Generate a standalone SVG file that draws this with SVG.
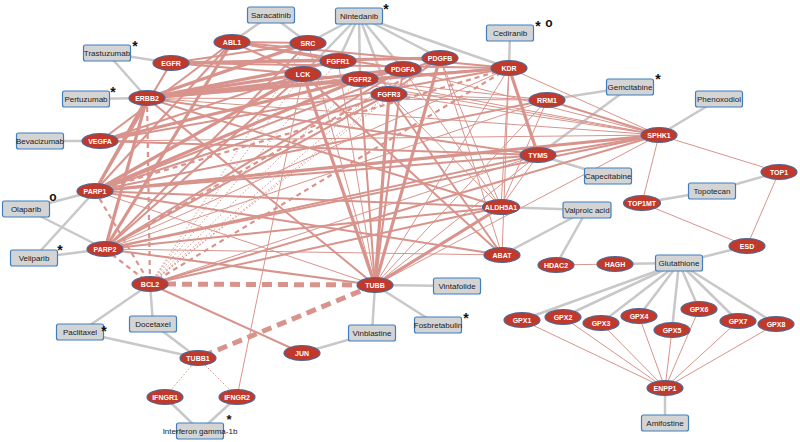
<svg xmlns="http://www.w3.org/2000/svg" width="800" height="442" viewBox="0 0 800 442">
<style>
.g{stroke:#c8c8c8;stroke-width:2.5;fill:none}
.r1{stroke:#d8948c;stroke-width:1;fill:none}
.r2{stroke:#d8948c;stroke-width:2;fill:none}
.r3{stroke:#d8948c;stroke-width:3.2;fill:none}
.rd{stroke:#d8948c;stroke-width:2.2;stroke-dasharray:5 4;fill:none}
.rdot{stroke:#d8948c;stroke-width:1;stroke-dasharray:1.5 2;fill:none}
.rbig{stroke:#d8948c;stroke-width:5;stroke-dasharray:10 6;fill:none}
.gene ellipse{fill:#c0392b;stroke:#4e6794;stroke-width:1.2}
.gene text{fill:#fff;font-family:"Liberation Sans",Arial,sans-serif;font-weight:bold;font-size:7px;text-anchor:middle}
.drug rect{fill:#d4d4d4;stroke:#3f7fbf;stroke-width:1.2}
.drug text{fill:#222;font-family:"Liberation Sans",Arial,sans-serif;font-size:8px;text-anchor:middle}
.mk{fill:#111;font-family:"Liberation Sans",Arial,sans-serif;font-weight:bold;text-anchor:middle}
</style>
<rect width="800" height="442" fill="#fff"/>
<g id="connectors">
<line class="g" x1="271" y1="15" x2="232" y2="42"/>
<line class="g" x1="271" y1="15" x2="308" y2="43"/>
<line class="g" x1="359" y1="16" x2="308" y2="43"/>
<line class="g" x1="359" y1="16" x2="303" y2="74"/>
<line class="g" x1="359" y1="16" x2="338" y2="61"/>
<line class="g" x1="359" y1="16" x2="360" y2="79"/>
<line class="g" x1="359" y1="16" x2="389" y2="94"/>
<line class="g" x1="359" y1="16" x2="403" y2="69"/>
<line class="g" x1="359" y1="16" x2="440" y2="58"/>
<line class="g" x1="359" y1="16" x2="509" y2="68"/>
<line class="g" x1="510" y1="33" x2="509" y2="68"/>
<line class="g" x1="107" y1="53" x2="171" y2="63"/>
<line class="g" x1="107" y1="53" x2="147" y2="98"/>
<line class="g" x1="86" y1="99" x2="147" y2="98"/>
<line class="g" x1="40" y1="141" x2="100" y2="141"/>
<line class="g" x1="630" y1="87" x2="547" y2="100"/>
<line class="g" x1="630" y1="87" x2="538" y2="155"/>
<line class="g" x1="719" y1="99" x2="659" y2="135"/>
<line class="g" x1="608" y1="176" x2="538" y2="155"/>
<line class="g" x1="712" y1="191" x2="779" y2="172"/>
<line class="g" x1="712" y1="191" x2="642" y2="203"/>
<line class="g" x1="587" y1="210" x2="501" y2="207"/>
<line class="g" x1="587" y1="210" x2="556" y2="265"/>
<line class="g" x1="587" y1="210" x2="502" y2="255"/>
<line class="g" x1="679" y1="263" x2="615" y2="264"/>
<line class="g" x1="679" y1="263" x2="747" y2="246"/>
<line class="g" x1="679" y1="263" x2="522" y2="320"/>
<line class="g" x1="679" y1="263" x2="563" y2="317"/>
<line class="g" x1="679" y1="263" x2="601" y2="323"/>
<line class="g" x1="679" y1="263" x2="639" y2="316"/>
<line class="g" x1="679" y1="263" x2="672" y2="330"/>
<line class="g" x1="679" y1="263" x2="699" y2="309"/>
<line class="g" x1="679" y1="263" x2="738" y2="321"/>
<line class="g" x1="679" y1="263" x2="776" y2="324"/>
<line class="g" x1="665" y1="423" x2="665" y2="388"/>
<line class="g" x1="26" y1="209" x2="95" y2="191"/>
<line class="g" x1="26" y1="209" x2="105" y2="249"/>
<line class="g" x1="34" y1="258" x2="95" y2="191"/>
<line class="g" x1="34" y1="258" x2="105" y2="249"/>
<line class="g" x1="457" y1="286" x2="375" y2="285"/>
<line class="g" x1="372" y1="333" x2="375" y2="285"/>
<line class="g" x1="438" y1="325" x2="375" y2="285"/>
<line class="g" x1="372" y1="333" x2="302" y2="353"/>
<line class="g" x1="80" y1="332" x2="150" y2="284"/>
<line class="g" x1="153" y1="324" x2="150" y2="284"/>
<line class="g" x1="80" y1="332" x2="198" y2="358"/>
<line class="g" x1="153" y1="324" x2="198" y2="358"/>
<line class="g" x1="200" y1="431" x2="165" y2="397"/>
<line class="g" x1="200" y1="431" x2="237" y2="397"/>
<line class="r1" x1="659" y1="135" x2="779" y2="172"/>
<line class="r1" x1="659" y1="135" x2="642" y2="203"/>
<line class="r1" x1="642" y1="203" x2="747" y2="246"/>
<line class="r1" x1="779" y1="172" x2="747" y2="246"/>
<line class="r1" x1="556" y1="265" x2="615" y2="264"/>
<line class="r1" x1="522" y1="320" x2="665" y2="388"/>
<line class="r1" x1="563" y1="317" x2="665" y2="388"/>
<line class="r1" x1="601" y1="323" x2="665" y2="388"/>
<line class="r1" x1="639" y1="316" x2="665" y2="388"/>
<line class="r1" x1="672" y1="330" x2="665" y2="388"/>
<line class="r1" x1="699" y1="309" x2="665" y2="388"/>
<line class="r1" x1="738" y1="321" x2="665" y2="388"/>
<line class="r1" x1="776" y1="324" x2="665" y2="388"/>
<line class="rdot" x1="198" y1="358" x2="165" y2="397"/>
<line class="rdot" x1="198" y1="358" x2="237" y2="397"/>
<line class="r1" x1="237" y1="397" x2="303" y2="74"/>
<line class="r1" x1="547" y1="100" x2="147" y2="98"/>
<line class="r1" x1="547" y1="100" x2="389" y2="94"/>
<line class="r1" x1="547" y1="100" x2="303" y2="74"/>
<line class="r1" x1="547" y1="100" x2="105" y2="249"/>
<line class="r1" x1="547" y1="100" x2="501" y2="207"/>
<line class="r1" x1="547" y1="100" x2="375" y2="285"/>
<line class="r1" x1="659" y1="135" x2="389" y2="94"/>
<line class="r1" x1="659" y1="135" x2="403" y2="69"/>
<line class="r1" x1="659" y1="135" x2="360" y2="79"/>
<line class="r1" x1="659" y1="135" x2="303" y2="74"/>
<line class="r1" x1="659" y1="135" x2="147" y2="98"/>
<line class="r1" x1="659" y1="135" x2="100" y2="141"/>
<line class="r1" x1="659" y1="135" x2="375" y2="285"/>
<line class="r1" x1="659" y1="135" x2="509" y2="68"/>
<line class="r1" x1="509" y1="68" x2="502" y2="255"/>
<line class="r1" x1="509" y1="68" x2="501" y2="207"/>
<line class="r1" x1="509" y1="68" x2="375" y2="285"/>
<line class="r1" x1="440" y1="58" x2="501" y2="207"/>
<line class="r1" x1="389" y1="94" x2="501" y2="207"/>
<line class="r1" x1="403" y1="69" x2="501" y2="207"/>
<line class="r1" x1="538" y1="155" x2="501" y2="207"/>
<line class="r1" x1="538" y1="155" x2="375" y2="285"/>
<line class="r1" x1="105" y1="249" x2="502" y2="255"/>
<line class="r1" x1="150" y1="284" x2="538" y2="155"/>
<line class="r1" x1="338" y1="61" x2="375" y2="285"/>
<line class="r1" x1="308" y1="43" x2="375" y2="285"/>
<line class="r1" x1="95" y1="191" x2="375" y2="285"/>
<line class="r1" x1="105" y1="249" x2="509" y2="68"/>
<line class="r1" x1="440" y1="58" x2="502" y2="255"/>
<line class="r2" x1="232" y1="42" x2="308" y2="43"/>
<line class="r2" x1="232" y1="42" x2="303" y2="74"/>
<line class="r2" x1="232" y1="42" x2="338" y2="61"/>
<line class="r2" x1="232" y1="42" x2="403" y2="69"/>
<line class="r2" x1="232" y1="42" x2="95" y2="191"/>
<line class="r2" x1="232" y1="42" x2="100" y2="141"/>
<line class="r2" x1="232" y1="42" x2="509" y2="68"/>
<line class="r2" x1="171" y1="63" x2="308" y2="43"/>
<line class="r2" x1="171" y1="63" x2="303" y2="74"/>
<line class="r2" x1="171" y1="63" x2="338" y2="61"/>
<line class="r2" x1="171" y1="63" x2="509" y2="68"/>
<line class="r2" x1="171" y1="63" x2="95" y2="191"/>
<line class="r2" x1="308" y1="43" x2="105" y2="249"/>
<line class="r2" x1="100" y1="141" x2="509" y2="68"/>
<line class="r2" x1="100" y1="141" x2="303" y2="74"/>
<line class="r2" x1="100" y1="141" x2="538" y2="155"/>
<line class="r2" x1="95" y1="191" x2="538" y2="155"/>
<line class="r2" x1="95" y1="191" x2="547" y2="100"/>
<line class="r2" x1="95" y1="191" x2="389" y2="94"/>
<line class="r2" x1="95" y1="191" x2="440" y2="58"/>
<line class="r2" x1="95" y1="191" x2="501" y2="207"/>
<line class="r2" x1="95" y1="191" x2="502" y2="255"/>
<line class="r2" x1="105" y1="249" x2="659" y2="135"/>
<line class="r2" x1="105" y1="249" x2="538" y2="155"/>
<line class="r2" x1="105" y1="249" x2="375" y2="285"/>
<line class="r2" x1="105" y1="249" x2="501" y2="207"/>
<line class="r2" x1="105" y1="249" x2="389" y2="94"/>
<line class="r2" x1="105" y1="249" x2="303" y2="74"/>
<line class="r2" x1="105" y1="249" x2="403" y2="69"/>
<line class="r2" x1="150" y1="284" x2="302" y2="353"/>
<line class="r2" x1="150" y1="284" x2="659" y2="135"/>
<line class="r2" x1="150" y1="284" x2="501" y2="207"/>
<line class="r2" x1="375" y1="285" x2="360" y2="79"/>
<line class="r2" x1="375" y1="285" x2="403" y2="69"/>
<line class="r2" x1="375" y1="285" x2="147" y2="98"/>
<line class="r2" x1="389" y1="94" x2="502" y2="255"/>
<line class="r2" x1="303" y1="74" x2="502" y2="255"/>
<line class="r2" x1="538" y1="155" x2="659" y2="135"/>
<line class="r2" x1="547" y1="100" x2="659" y2="135"/>
<line class="r2" x1="147" y1="98" x2="538" y2="155"/>
<line class="r2" x1="147" y1="98" x2="501" y2="207"/>
<line class="r2" x1="440" y1="58" x2="389" y2="94"/>
<line class="r2" x1="360" y1="79" x2="509" y2="68"/>
<line class="r3" x1="147" y1="98" x2="303" y2="74"/>
<line class="r3" x1="147" y1="98" x2="338" y2="61"/>
<line class="r3" x1="147" y1="98" x2="360" y2="79"/>
<line class="r3" x1="147" y1="98" x2="403" y2="69"/>
<line class="r3" x1="147" y1="98" x2="509" y2="68"/>
<line class="r3" x1="147" y1="98" x2="308" y2="43"/>
<line class="r3" x1="147" y1="98" x2="95" y2="191"/>
<line class="r3" x1="147" y1="98" x2="105" y2="249"/>
<line class="r3" x1="95" y1="191" x2="659" y2="135"/>
<line class="r3" x1="95" y1="191" x2="360" y2="79"/>
<line class="r3" x1="95" y1="191" x2="303" y2="74"/>
<line class="r3" x1="375" y1="285" x2="303" y2="74"/>
<line class="r3" x1="375" y1="285" x2="389" y2="94"/>
<line class="r3" x1="375" y1="285" x2="440" y2="58"/>
<line class="r3" x1="375" y1="285" x2="501" y2="207"/>
<line class="r3" x1="509" y1="68" x2="538" y2="155"/>
<line class="r3" x1="171" y1="63" x2="440" y2="58"/>
<line class="r3" x1="100" y1="141" x2="403" y2="69"/>
<line class="r3" x1="105" y1="249" x2="232" y2="42"/>
<line class="rd" x1="147" y1="98" x2="150" y2="284"/>
<line class="rd" x1="95" y1="191" x2="150" y2="284"/>
<line class="rd" x1="105" y1="249" x2="150" y2="284"/>
<line class="rd" x1="95" y1="191" x2="509" y2="68"/>
<line class="rd" x1="105" y1="249" x2="440" y2="58"/>
<line class="rd" x1="150" y1="284" x2="509" y2="68"/>
<line class="rdot" x1="150" y1="284" x2="303" y2="74"/>
<line class="rdot" x1="150" y1="284" x2="338" y2="61"/>
<line class="rdot" x1="150" y1="284" x2="360" y2="79"/>
<line class="rdot" x1="150" y1="284" x2="389" y2="94"/>
<line class="rdot" x1="150" y1="284" x2="403" y2="69"/>
<line class="rdot" x1="150" y1="284" x2="440" y2="58"/>
<line class="rdot" x1="150" y1="284" x2="308" y2="43"/>
<line class="rbig" x1="150" y1="284" x2="375" y2="285"/>
<line class="rbig" x1="375" y1="285" x2="198" y2="358"/>
</g>
<g id="n-ABL1" class="gene"><ellipse cx="232" cy="42" rx="18" ry="7.5"/><text x="232" y="44.5">ABL1</text></g>
<g id="n-SRC" class="gene"><ellipse cx="308" cy="43" rx="18" ry="7.5"/><text x="308" y="45.5">SRC</text></g>
<g id="n-EGFR" class="gene"><ellipse cx="171" cy="63" rx="18" ry="7.5"/><text x="171" y="65.5">EGFR</text></g>
<g id="n-FGFR1" class="gene"><ellipse cx="338" cy="61" rx="18" ry="7.5"/><text x="338" y="63.5">FGFR1</text></g>
<g id="n-LCK" class="gene"><ellipse cx="303" cy="74" rx="18" ry="7.5"/><text x="303" y="76.5">LCK</text></g>
<g id="n-FGFR2" class="gene"><ellipse cx="360" cy="79" rx="18" ry="7.5"/><text x="360" y="81.5">FGFR2</text></g>
<g id="n-PDGFA" class="gene"><ellipse cx="403" cy="69" rx="18" ry="7.5"/><text x="403" y="71.5">PDGFA</text></g>
<g id="n-PDGFB" class="gene"><ellipse cx="440" cy="58" rx="18" ry="7.5"/><text x="440" y="60.5">PDGFB</text></g>
<g id="n-FGFR3" class="gene"><ellipse cx="389" cy="94" rx="18" ry="7.5"/><text x="389" y="96.5">FGFR3</text></g>
<g id="n-KDR" class="gene"><ellipse cx="509" cy="68" rx="18" ry="7.5"/><text x="509" y="70.5">KDR</text></g>
<g id="n-ERBB2" class="gene"><ellipse cx="147" cy="98" rx="18" ry="7.5"/><text x="147" y="100.5">ERBB2</text></g>
<g id="n-VEGFA" class="gene"><ellipse cx="100" cy="141" rx="18" ry="7.5"/><text x="100" y="143.5">VEGFA</text></g>
<g id="n-RRM1" class="gene"><ellipse cx="547" cy="100" rx="18" ry="7.5"/><text x="547" y="102.5">RRM1</text></g>
<g id="n-SPHK1" class="gene"><ellipse cx="659" cy="135" rx="18" ry="7.5"/><text x="659" y="137.5">SPHK1</text></g>
<g id="n-TYMS" class="gene"><ellipse cx="538" cy="155" rx="18" ry="7.5"/><text x="538" y="157.5">TYMS</text></g>
<g id="n-PARP1" class="gene"><ellipse cx="95" cy="191" rx="18" ry="7.5"/><text x="95" y="193.5">PARP1</text></g>
<g id="n-ALDH5A1" class="gene"><ellipse cx="501" cy="207" rx="18.5" ry="7.5"/><text x="501" y="209.5">ALDH5A1</text></g>
<g id="n-PARP2" class="gene"><ellipse cx="105" cy="249" rx="18" ry="7.5"/><text x="105" y="251.5">PARP2</text></g>
<g id="n-ABAT" class="gene"><ellipse cx="502" cy="255" rx="18" ry="7.5"/><text x="502" y="257.5">ABAT</text></g>
<g id="n-BCL2" class="gene"><ellipse cx="150" cy="284" rx="18" ry="7.5"/><text x="150" y="286.5">BCL2</text></g>
<g id="n-TUBB" class="gene"><ellipse cx="375" cy="285" rx="18" ry="7.5"/><text x="375" y="287.5">TUBB</text></g>
<g id="n-JUN" class="gene"><ellipse cx="302" cy="353" rx="18" ry="7.5"/><text x="302" y="355.5">JUN</text></g>
<g id="n-TUBB1" class="gene"><ellipse cx="198" cy="358" rx="18" ry="7.5"/><text x="198" y="360.5">TUBB1</text></g>
<g id="n-IFNGR1" class="gene"><ellipse cx="165" cy="397" rx="18" ry="7.5"/><text x="165" y="399.5">IFNGR1</text></g>
<g id="n-IFNGR2" class="gene"><ellipse cx="237" cy="397" rx="18" ry="7.5"/><text x="237" y="399.5">IFNGR2</text></g>
<g id="n-TOP1" class="gene"><ellipse cx="779" cy="172" rx="18" ry="7.5"/><text x="779" y="174.5">TOP1</text></g>
<g id="n-TOP1MT" class="gene"><ellipse cx="642" cy="203" rx="18.5" ry="7.5"/><text x="642" y="205.5">TOP1MT</text></g>
<g id="n-ESD" class="gene"><ellipse cx="747" cy="246" rx="18" ry="7.5"/><text x="747" y="248.5">ESD</text></g>
<g id="n-HDAC2" class="gene"><ellipse cx="556" cy="265" rx="18" ry="7.5"/><text x="556" y="267.5">HDAC2</text></g>
<g id="n-HAGH" class="gene"><ellipse cx="615" cy="264" rx="18" ry="7.5"/><text x="615" y="266.5">HAGH</text></g>
<g id="n-GPX1" class="gene"><ellipse cx="522" cy="320" rx="18" ry="7.5"/><text x="522" y="322.5">GPX1</text></g>
<g id="n-GPX2" class="gene"><ellipse cx="563" cy="317" rx="18" ry="7.5"/><text x="563" y="319.5">GPX2</text></g>
<g id="n-GPX3" class="gene"><ellipse cx="601" cy="323" rx="18" ry="7.5"/><text x="601" y="325.5">GPX3</text></g>
<g id="n-GPX4" class="gene"><ellipse cx="639" cy="316" rx="18" ry="7.5"/><text x="639" y="318.5">GPX4</text></g>
<g id="n-GPX5" class="gene"><ellipse cx="672" cy="330" rx="18" ry="7.5"/><text x="672" y="332.5">GPX5</text></g>
<g id="n-GPX6" class="gene"><ellipse cx="699" cy="309" rx="18" ry="7.5"/><text x="699" y="311.5">GPX6</text></g>
<g id="n-GPX7" class="gene"><ellipse cx="738" cy="321" rx="18" ry="7.5"/><text x="738" y="323.5">GPX7</text></g>
<g id="n-GPX8" class="gene"><ellipse cx="776" cy="324" rx="18" ry="7.5"/><text x="776" y="326.5">GPX8</text></g>
<g id="n-ENPP1" class="gene"><ellipse cx="665" cy="388" rx="18" ry="7.5"/><text x="665" y="390.5">ENPP1</text></g>
<g id="d-Saracatinib" class="drug"><rect x="247.5" y="7" width="47" height="16" rx="2"/><text x="271" y="18">Saracatinib</text></g>
<g id="d-Nintedanib" class="drug"><rect x="335.5" y="8" width="47" height="16" rx="2"/><text x="359" y="19">Nintedanib</text></g>
<g id="d-Cediranib" class="drug"><rect x="486.5" y="25" width="47" height="16" rx="2"/><text x="510" y="36">Cediranib</text></g>
<g id="d-Trastuzumab" class="drug"><rect x="83.5" y="45" width="47" height="16" rx="2"/><text x="107" y="56">Trastuzumab</text></g>
<g id="d-Pertuzumab" class="drug"><rect x="62.5" y="91" width="47" height="16" rx="2"/><text x="86" y="102">Pertuzumab</text></g>
<g id="d-Bevacizumab" class="drug"><rect x="16.5" y="133" width="47" height="16" rx="2"/><text x="40" y="144">Bevacizumab</text></g>
<g id="d-Gemcitabine" class="drug"><rect x="606.5" y="79" width="47" height="16" rx="2"/><text x="630" y="90">Gemcitabine</text></g>
<g id="d-Phenoxodiol" class="drug"><rect x="695.5" y="91" width="47" height="16" rx="2"/><text x="719" y="102">Phenoxodiol</text></g>
<g id="d-Capecitabine" class="drug"><rect x="584.5" y="168" width="47" height="16" rx="2"/><text x="608" y="179">Capecitabine</text></g>
<g id="d-Topotecan" class="drug"><rect x="688.5" y="183" width="47" height="16" rx="2"/><text x="712" y="194">Topotecan</text></g>
<g id="d-Valproic" class="drug"><rect x="563" y="202" width="48" height="16" rx="2"/><text x="587" y="213">Valproic acid</text></g>
<g id="d-Olaparib" class="drug"><rect x="2.5" y="201" width="47" height="16" rx="2"/><text x="26" y="212">Olaparib</text></g>
<g id="d-Veliparib" class="drug"><rect x="10.5" y="250" width="47" height="16" rx="2"/><text x="34" y="261">Veliparib</text></g>
<g id="d-Glutathione" class="drug"><rect x="655.5" y="255" width="47" height="16" rx="2"/><text x="679" y="266">Glutathione</text></g>
<g id="d-Vintafolide" class="drug"><rect x="433.5" y="278" width="47" height="16" rx="2"/><text x="457" y="289">Vintafolide</text></g>
<g id="d-Paclitaxel" class="drug"><rect x="56.5" y="324" width="47" height="16" rx="2"/><text x="80" y="335">Paclitaxel</text></g>
<g id="d-Docetaxel" class="drug"><rect x="129.5" y="316" width="47" height="16" rx="2"/><text x="153" y="327">Docetaxel</text></g>
<g id="d-Vinblastine" class="drug"><rect x="348.5" y="325" width="47" height="16" rx="2"/><text x="372" y="336">Vinblastine</text></g>
<g id="d-Fosbretabulin" class="drug"><rect x="414.5" y="317" width="47" height="16" rx="2"/><text x="438" y="328">Fosbretabulin</text></g>
<g id="d-Interferon" class="drug"><rect x="176.5" y="423" width="47" height="16" rx="2"/><text x="200" y="434">Interferon gamma-1b</text></g>
<g id="d-Amifostine" class="drug"><rect x="641.5" y="415" width="47" height="16" rx="2"/><text x="665" y="426">Amifostine</text></g>
<g id="markers" class="mk">
<text x="135" y="51" font-size="14">*</text>
<text x="113" y="97" font-size="14">*</text>
<text x="386" y="14" font-size="14">*</text>
<text x="538" y="31" font-size="14">*</text>
<text x="549" y="27" font-size="12">o</text>
<text x="658" y="84" font-size="14">*</text>
<text x="53" y="201" font-size="12">o</text>
<text x="60" y="255" font-size="14">*</text>
<text x="104" y="336" font-size="14">*</text>
<text x="466" y="323" font-size="14">*</text>
<text x="229" y="424" font-size="13">*</text>
</g>
</svg>
